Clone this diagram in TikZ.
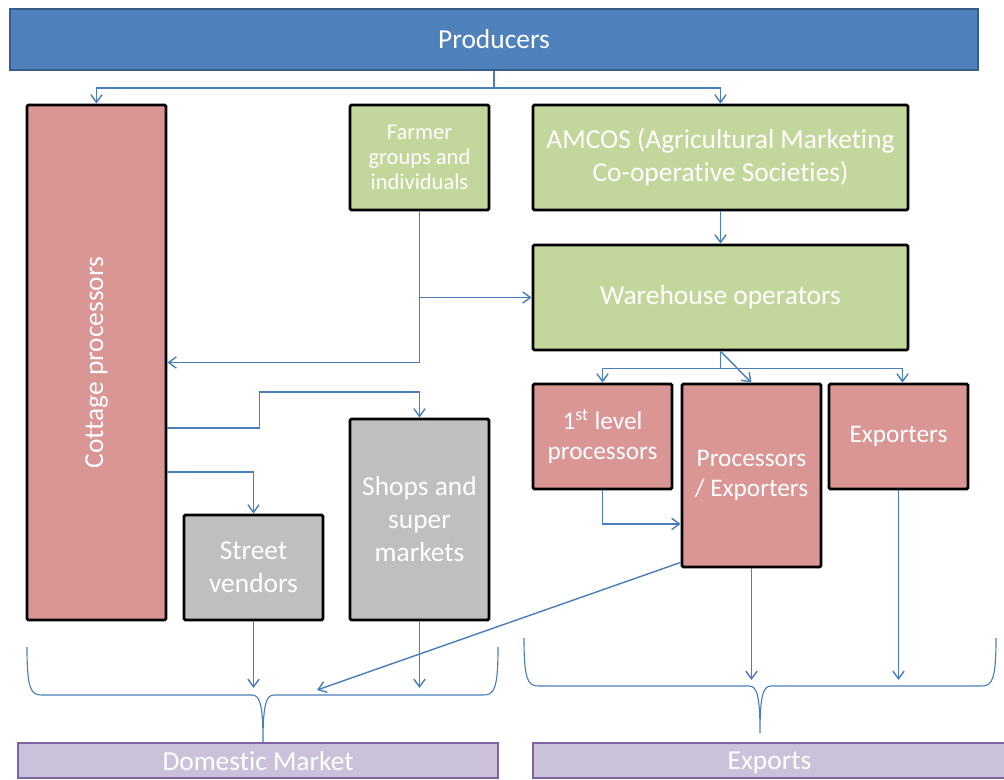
\documentclass[tikz,border=0pt]{standalone}
\usepackage{fontspec}
\setmainfont{Carlito}[Ligatures={NoCommon}]
\usetikzlibrary{arrows.meta}
\definecolor{MktBlue}{RGB}{79,129,189}
\definecolor{MktBlueEdge}{RGB}{56,93,138}
\definecolor{MktRose}{RGB}{217,150,148}
\definecolor{MktGreen}{RGB}{195,214,155}
\definecolor{MktGray}{RGB}{191,191,191}
\definecolor{MktLilac}{RGB}{204,193,218}
\definecolor{MktPurple}{RGB}{128,100,162}
\definecolor{MktLine}{RGB}{74,126,187}
\tikzset{
  mkt/box/.style={
    draw=black,
    line width=2pt,
    rounded corners=1pt,
    align=center,
    text=white,
    inner sep=2pt,
    minimum width=3.475cm,
    minimum height=2.625cm,
    font=\fontsize{19.5}{23.5}\selectfont
  },
  mkt/rose/.style={mkt/box, fill=MktRose},
  mkt/green/.style={mkt/box, fill=MktGreen},
  mkt/gray/.style={mkt/box, fill=MktGray},
  mkt/banner/.style={
    draw=MktBlueEdge,
    line width=1.5pt,
    fill=MktBlue,
    text=white,
    minimum width=24.2cm,
    minimum height=1.525cm,
    font=\fontsize{19.5}{23.5}\selectfont
  },
  mkt/market/.style={
    draw=MktPurple,
    line width=1.5pt,
    fill=MktLilac,
    text=white,
    minimum height=0.875cm,
    inner sep=0pt,
    text depth=0pt,
    font=\fontsize{19.5}{23.5}\selectfont
  },
  mkt/link/.style={draw=MktLine, line width=1pt},
  mkt/arrow/.style={mkt/link, -{Straight Barb[length=5.5pt,width=8pt]}},
  mkt/brace/.style={draw=MktLine, line width=0.8pt}
}

\begin{document}
\begin{tikzpicture}[x=0.025cm,y=-0.025cm]
  \useasboundingbox (0,0) rectangle (1004,779);
  \fill[white] (0,0) rectangle (1004,779);

  % top banner and first tier
  \node[mkt/banner] (prod) at (494,39.5) {Producers};
  \node[mkt/rose,minimum height=12.875cm] (cottage) at (96.5,362.5) {\rotatebox{90}{Cottage processors}};
  \node[mkt/green,font=\fontsize{16}{18}\selectfont] (farmer) at (419.5,157.5) {Farmer\\groups and\\individuals};
  \node[mkt/green,minimum width=9.375cm] (amcos) at (720.5,157.5) {AMCOS (Agricultural Marketing\\Co-operative Societies)};
  \node[mkt/green,minimum width=9.375cm] (ware) at (720.5,297.5) {Warehouse operators};

  % processing and export side
  \node[mkt/rose,font=\fontsize{18}{21.5}\selectfont] (lvl1) at (602.5,436.5) {1\textsuperscript{st} level\\processors};
  \node[mkt/rose,minimum height=4.575cm,font=\fontsize{18}{21.5}\selectfont] (procexp) at (751.5,475.5) {Processors\\/ Exporters};
  \node[mkt/rose,font=\fontsize{18}{21.5}\selectfont] (exp) at (898.5,436.5) {Exporters};

  % retail side
  \node[mkt/gray] (street) at (253.5,567.5) {Street\\vendors};
  \node[mkt/gray,minimum height=5.025cm] (shops) at (419.5,519.5) {Shops and\\super\\markets};

  % end markets
  \node[mkt/market,minimum width=12cm] (dom) at (258,760.5) {Domestic Market};
  \node[mkt/market,minimum width=11.825cm] (expo) at (769.5,760.5) {Exports};

  % flows out of producers
  \draw[mkt/link] (prod.south) -- ++(0,17) coordinate (pj);
  \draw[mkt/arrow] (pj) -| (cottage.north);
  \draw[mkt/arrow] (pj) -| (amcos.north);

  % farmer groups
  \draw[mkt/arrow] (farmer.south) |- (cottage.east);
  \draw[mkt/arrow] (farmer.south |- ware.west) -- (ware.west);
  \draw[mkt/arrow] (amcos.south) -- (ware.north);

  % warehouse fan-out
  \draw[mkt/link] (ware.south) -- ++(0,17) coordinate (wj);
  \draw[mkt/arrow] (wj) -| (lvl1.north);
  \draw[mkt/arrow] (wj) -| ([xshift=0.1cm]exp.north);
  \draw[mkt/arrow] (ware.south) -- (procexp.north);
  \draw[mkt/arrow] (lvl1.south) |- ([yshift=-1.21cm]procexp.west);

  % cottage processors to retail
  \draw[mkt/arrow] ([yshift=-1.64cm]cottage.east) -- ++(92,0) -- ++(0,-36) -| (shops.north);
  \draw[mkt/arrow] ([yshift=-2.74cm]cottage.east) -| (street.north);

  % into the market braces
  \coordinate (domin) at (0,688);
  \coordinate (expin) at (0,680);
  \coordinate (crossin) at (317,690);
  \draw[mkt/arrow] (street.south) -- (street.south |- domin);
  \draw[mkt/arrow] (shops.south) -- (shops.south |- domin);
  \draw[mkt/arrow] ([yshift=0.15cm]procexp.south west) -- (crossin);
  \draw[mkt/arrow] (procexp.south) -- (procexp.south |- expin);
  \draw[mkt/arrow] (exp.south) -- (exp.south |- expin);

  % braces
  \draw[mkt/brace] (27,647) .. controls (27,690) and (31,695) .. (42,695) -- (252,695)
    .. controls (260,695) and (263,705) .. (263,742)
    .. controls (263,705) and (266,695) .. (274,695) -- (483,695)
    .. controls (494,695) and (498,690) .. (498,647);
  \draw[mkt/brace] (524,638) .. controls (524,681) and (528,686) .. (539,686) -- (749,686)
    .. controls (757,686) and (760,696) .. (760,733)
    .. controls (760,696) and (763,686) .. (771,686) -- (981,686)
    .. controls (992,686) and (996,681) .. (996,638);
\end{tikzpicture}
\end{document}
